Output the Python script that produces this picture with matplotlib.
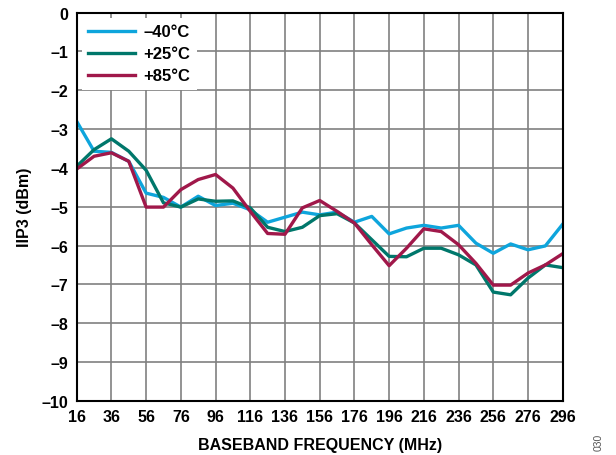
import numpy as np
import matplotlib.pyplot as plt

plt.rcParams['font.family'] = ['Liberation Sans', 'DejaVu Sans']
plt.rcParams['font.weight'] = 'bold'

freq = np.arange(16, 297, 10)

iip3_m40 = [-2.80, -3.57, -3.60, -3.83, -4.65, -4.76, -5.01, -4.73, -4.97, -4.91,
            -5.08, -5.40, -5.27, -5.14, -5.21, -5.14, -5.40, -5.25, -5.70, -5.55,
            -5.48, -5.55, -5.48, -5.94, -6.20, -5.96, -6.11, -6.01, -5.45]
iip3_p25 = [-3.96, -3.53, -3.25, -3.57, -4.06, -4.90, -5.01, -4.80, -4.86, -4.85,
            -5.03, -5.53, -5.64, -5.53, -5.23, -5.18, -5.42, -5.85, -6.28, -6.29,
            -6.07, -6.07, -6.24, -6.50, -7.20, -7.27, -6.84, -6.50, -6.57]
iip3_p85 = [-4.03, -3.70, -3.61, -3.83, -5.01, -5.01, -4.56, -4.30, -4.17, -4.52,
            -5.12, -5.69, -5.71, -5.03, -4.84, -5.12, -5.42, -5.98, -6.52, -6.07,
            -5.57, -5.64, -5.98, -6.46, -7.02, -7.02, -6.71, -6.50, -6.21]

labels = ['\u201340\u00b0C', '+25\u00b0C', '+85\u00b0C']
colors = ['#0ea5dc', '#00776b', '#a0184a']

fig = plt.figure(figsize=(6.16, 4.56), dpi=100)
ax = fig.add_axes([0.1245, 0.119, 0.789, 0.851])

for y, lab, c in zip([iip3_m40, iip3_p25, iip3_p85], labels, colors):
    ax.plot(freq, y, color=c, lw=2.4, label=lab)

ax.set_xlim(16, 296)
ax.set_ylim(-10, 0)
ax.set_xticks(np.arange(16, 297, 20))
ax.set_yticks(np.arange(-10, 1, 1))
ax.set_yticklabels([('\u2013' + str(-v)) if v < 0 else '0' for v in range(-10, 1)])
ax.grid(True, color='#808080', lw=1.2)
ax.tick_params(labelsize=11.5, length=0, pad=6)
for s in ax.spines.values():
    s.set_linewidth(1.5)
    s.set_color('black')

ax.set_xlabel('BASEBAND FREQUENCY (MHz)', fontsize=11.5, fontweight='bold', labelpad=9)
ax.set_ylabel('IIP3 (dBm)', fontsize=11.5, fontweight='bold', labelpad=7)

leg = ax.legend(loc='upper left', fontsize=12, frameon=True, fancybox=False,
                edgecolor='white', framealpha=1, handlelength=2.8,
                handletextpad=0.5, borderaxespad=0.3, labelspacing=0.42)
leg.get_frame().set_linewidth(0)

fig.text(0.972, 0.012, '030', rotation=90, fontsize=7.5, fontweight='normal',
         color='#555555', ha='center', va='bottom')

fig.savefig('out.png', dpi=100)
